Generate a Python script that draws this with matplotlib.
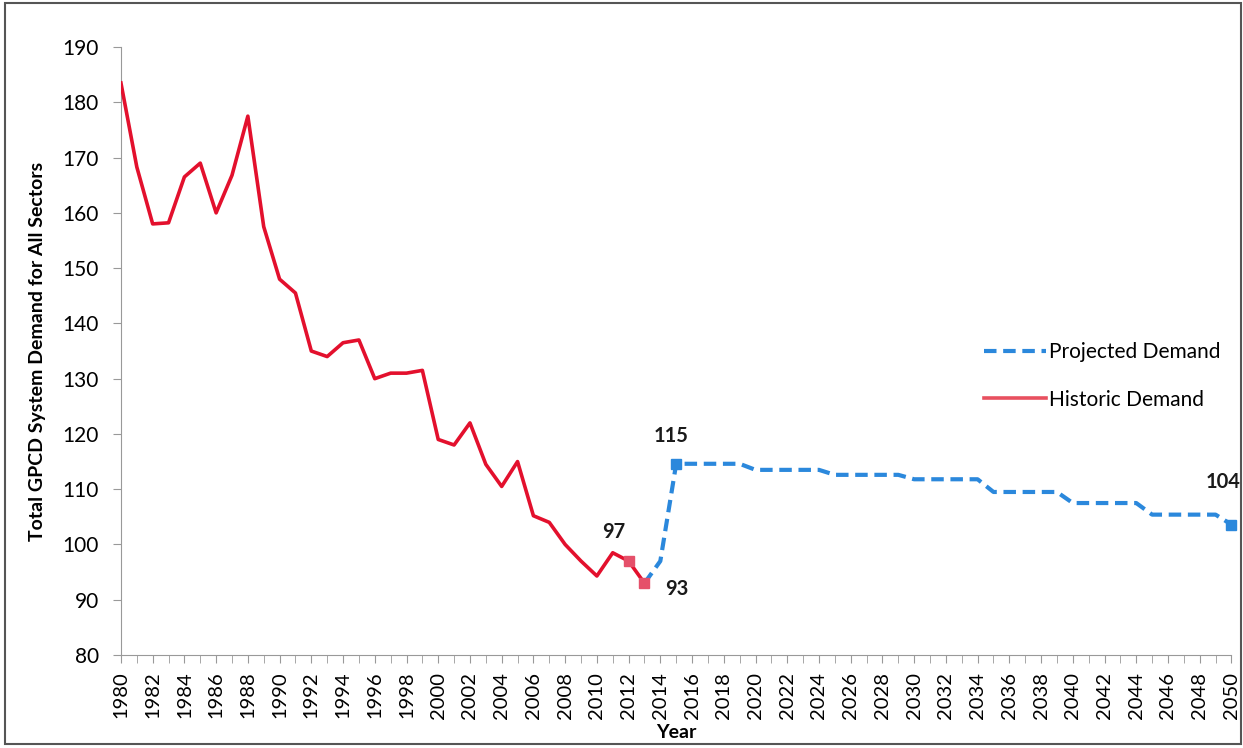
import matplotlib.pyplot as plt
from matplotlib.patches import Rectangle
import numpy as np

plt.rcParams['font.family'] = ['Lato', 'DejaVu Sans']

hist_years = list(range(1980, 2014))
hist_gpcd = [183.5, 168.3, 158, 158.2, 166.5, 169, 160, 166.8, 177.5, 157.5,
             148, 145.5, 135, 134, 136.5, 137, 130, 131, 131, 131.5,
             119, 118, 122, 114.5, 110.5, 115, 105.2, 104, 100, 97,
             94.3, 98.5, 97, 93]

proj_years = list(range(2013, 2051))
proj_gpcd = [93, 97, 114.6, 114.6, 114.6, 114.6, 114.6,
             113.5, 113.5, 113.5, 113.5, 113.5,
             112.6, 112.6, 112.6, 112.6, 112.6,
             111.8, 111.8, 111.8, 111.8, 111.8,
             109.5, 109.5, 109.5, 109.5, 109.5,
             107.5, 107.5, 107.5, 107.5, 107.5,
             105.4, 105.4, 105.4, 105.4, 105.4,
             103.6]

# labelled points: (year, value, text, dx, dy)
labels = [(2012, 97, '97', -11, 21), (2013, 93, '93', 23, -4),
          (2015, 114.6, '115', -4, 20), (2050, 103.6, '104', -6, 31)]

red = '#E3102D'
red_mk = '#E5506A'
blue = '#2B88DC'

fig = plt.figure(figsize=(12.43, 7.48), dpi=100)
ax = fig.add_axes([0.0973, 0.1243, 0.8934, 0.8128])

ax.plot(proj_years, proj_gpcd, color=blue, lw=3, ls=(0, (3, 1.6)),
        label='Projected Demand', zorder=2)
ax.plot(hist_years, hist_gpcd, color=red, lw=2.6, label='Historic Demand', zorder=3)

ax.plot([2012, 2013], [97, 93], ls='none', marker='s', ms=7.5, color=red_mk,
        zorder=4, clip_on=False)
ax.plot([2015, 2050], [114.6, 103.6], ls='none', marker='s', ms=7.5, color=blue,
        zorder=4, clip_on=False)

for yr, v, txt, dx, dy in labels:
    ax.annotate(txt, (yr, v), xytext=(dx, dy), textcoords='offset points',
                ha='center', va='center', fontsize=14.5, fontweight='bold',
                color='#1a1a1a', annotation_clip=False)

ax.set_xlim(1980, 2050)
ax.set_ylim(80, 190)
ax.set_yticks(np.arange(80, 191, 10))
ax.set_xticks(np.arange(1980, 2051, 2))
ax.set_xticks(np.arange(1980, 2051, 1), minor=True)
ax.tick_params(axis='x', which='both', rotation=90, length=6, color='#999999',
               labelsize=14.5, pad=6)
ax.tick_params(axis='y', length=6, color='#999999', labelsize=15, pad=10)
for s in ['top', 'right']:
    ax.spines[s].set_visible(False)
for s in ['left', 'bottom']:
    ax.spines[s].set_color('#999999')

ax.set_xlabel('Year', fontsize=14, fontweight='bold', labelpad=4)
ax.set_ylabel('Total GPCD System Demand for All Sectors', fontsize=14,
              fontweight='bold', labelpad=12)

leg = ax.legend(loc='upper left', bbox_to_anchor=(0.76, 0.545), frameon=False,
                fontsize=15, handlelength=3.0, handletextpad=0.15, labelspacing=1.3)
leg.get_lines()[1].set_color('#E8505F')

fig.patches.append(Rectangle((0.004, 0.006), 0.994, 0.99, transform=fig.transFigure,
                             fill=False, edgecolor='#555555', lw=1.5))

fig.savefig('out.png', dpi=100)
